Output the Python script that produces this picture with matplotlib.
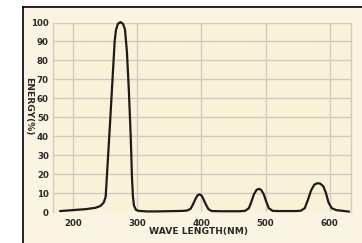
import matplotlib.pyplot as plt
from matplotlib.patches import Rectangle
from matplotlib.lines import Line2D

# ========== Data ==========
wavelength = [180, 200, 220, 235, 243, 248, 251, 254, 258, 262, 265, 267, 270, 274,
              278, 281, 284, 287, 290, 292, 293.5, 295, 298, 302, 315, 330, 345, 360,
              372, 378, 383, 387, 391, 394, 397, 400, 403, 407, 411, 416, 430, 445,
              460, 468, 474, 478, 482, 486, 489.5, 493, 497, 501, 505, 511, 520, 535,
              548, 555, 561, 566, 571, 576, 581, 585, 590, 594, 598, 603, 610, 620, 630]
energy = [0.5, 1.0, 1.5, 2.2, 3.2, 5.0, 8.0, 25, 48, 72, 90, 96, 99.3, 100.2,
          99.3, 96.5, 85, 65, 40, 18, 8.0, 3.5, 1.2, 0.6, 0.3, 0.3, 0.4, 0.5,
          0.6, 0.8, 1.6, 4.0, 7.0, 8.8, 9.3, 8.8, 7.0, 4.0, 1.5, 0.5, 0.4, 0.4,
          0.4, 0.6, 2.0, 5.5, 9.5, 11.7, 12.2, 11.7, 9.5, 5.5, 2.0, 0.6, 0.5, 0.5,
          0.5, 0.7, 2.0, 6.5, 11.5, 14.5, 15.2, 15.0, 13.5, 10.0, 5.0, 2.0, 1.0, 0.6, 0.2]

x_ticks = [200, 300, 400, 500, 600]
y_ticks = [0, 10, 20, 30, 40, 50, 60, 70, 80, 90, 100]

# ========== Styling ==========
cream_out = '#fbf4e2'
cream_in = '#faf1d9'
grid_col = '#d3c9c5'
text_col = '#2a2a2a'

fig = plt.figure(figsize=(3.62, 2.43), dpi=100)
fig.patch.set_facecolor('white')

# cream panel with black top / left border
fig.patches.append(Rectangle((23 / 362, 0), 1, 1 - 7 / 243, transform=fig.transFigure,
                             facecolor=cream_out, edgecolor='none', zorder=-5))
fig.lines.append(Line2D([23 / 362, 1], [1 - 7 / 243] * 2, transform=fig.transFigure,
                        color='black', linewidth=1.2))
fig.lines.append(Line2D([23 / 362] * 2, [0, 1 - 7 / 243], transform=fig.transFigure,
                        color='black', linewidth=1.2))

ax = fig.add_axes([53 / 362, 1 - 212 / 243, 298 / 362, 189.5 / 243])
ax.set_zorder(5)
ax.set_facecolor(cream_in)
ax.set_xlim(169, 633)
ax.set_ylim(0, 100)

# grid: vertical at ticks, horizontal 10..100
for xv in x_ticks:
    ax.axvline(xv, color=grid_col, linewidth=1.0, zorder=1)
for yv in y_ticks[1:]:
    ax.axhline(yv, color=grid_col, linewidth=1.0, zorder=1)

for side in ['left', 'right']:
    ax.spines[side].set_color(grid_col)
    ax.spines[side].set_linewidth(1.0)
ax.spines['top'].set_visible(False)
ax.spines['bottom'].set_visible(False)

ax.plot(wavelength, energy, color='#1c1c1c', linewidth=1.6,
        solid_joinstyle='round', solid_capstyle='round', zorder=3, clip_on=False)

ax.set_xticks(x_ticks)
ax.set_yticks(y_ticks)
ax.tick_params(length=0, labelsize=6.2, labelcolor=text_col)
ax.tick_params(axis='x', pad=5)
ax.tick_params(axis='y', pad=3)
for lab in ax.get_xticklabels() + ax.get_yticklabels():
    lab.set_fontweight('bold')

fig.text(198 / 362, 1 - 231 / 243, 'WAVE LENGTH(NM)', ha='center', va='center',
         fontsize=6.6, color=text_col, fontweight='bold')
fig.text(29 / 362, 1 - 106 / 243, 'ENERGY(%)', ha='center', va='center',
         rotation=270, fontsize=6.6, color=text_col, fontweight='bold')

fig.savefig('out.png', dpi=100)
